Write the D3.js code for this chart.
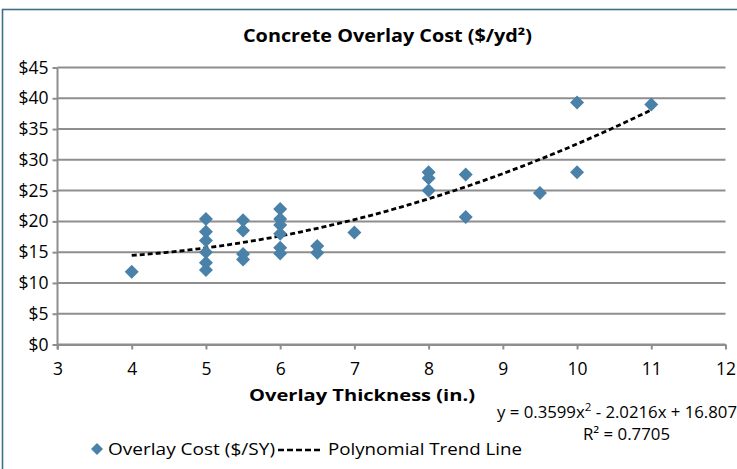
<!DOCTYPE html>
<html><head><meta charset="utf-8">
<script src="https://cdn.jsdelivr.net/npm/d3@7"></script>
<style>
html,body{margin:0;padding:0;background:#fff;}
svg{display:block;}
text{font-family:"Open Sans","Noto Sans",sans-serif;fill:#000;}
</style></head>
<body>
<script>
// ---- data ----
const thickness = [4, 5,5,5,5,5,5, 5.5,5.5,5.5,5.5, 6,6,6,6,6,6, 6.5,6.5, 7, 8,8,8, 8.5,8.5, 9.5, 10,10, 11];
const cost      = [11.8, 20.4,18.3,16.9,15.0,13.3,12.1, 20.2,18.5,14.7,13.8, 22.0,20.4,19.4,18.0,15.7,14.8, 16.0,14.9, 18.2, 28.0,27.0,25.0, 27.6,20.7, 24.6, 39.3,28.0, 39.0];
const xTicks = [3,4,5,6,7,8,9,10,11,12];
const yTicks = [0,5,10,15,20,25,30,35,40,45];
const trendCoef = [0.3599, -2.0216, 16.807]; // a x^2 + b x + c (from chart)
const trendRange = [4, 11];
const titleText = "Concrete Overlay Cost ($/yd²)";
const xTitle = "Overlay Thickness (in.)";
const legendLabels = ["Overlay Cost ($/SY)", "Polynomial Trend Line"];

const W = 737, H = 469;
const svg = d3.select("body").append("svg").attr("width", W).attr("height", H);

// outer border (top and left visible)
svg.append("rect").attr("x", 2.5).attr("y", 9.5).attr("width", 900).attr("height", 700)
  .attr("fill", "none").attr("stroke", "#3f6f88").attr("stroke-width", 1.6);

const x = d3.scaleLinear().domain([3, 12]).range([57.5, 725.5]);
const y = d3.scaleLinear().domain([0, 45]).range([344.5, 67.5]);
const gridCol = "#8e8e8e";

// gridlines
svg.append("g").selectAll("line").data(yTicks).join("line")
  .attr("x1", x(3)).attr("x2", x(12))
  .attr("y1", d => y(d)).attr("y2", d => y(d))
  .attr("stroke", gridCol).attr("stroke-width", 2);

// y axis
const yAxis = svg.append("g").attr("transform", `translate(${x(3)},0)`)
  .call(d3.axisLeft(y).tickValues(yTicks).tickFormat(d => "$" + d).tickSize(5).tickSizeOuter(0).tickPadding(4));
yAxis.select(".domain").attr("stroke", gridCol).attr("stroke-width", 2)
  .attr("d", `M0,${y(45)}V${y(0) + 5}`);
yAxis.selectAll(".tick line").attr("stroke", gridCol).attr("stroke-width", 2);
yAxis.selectAll(".tick text").attr("font-size", 17.5).attr("font-family", "Open Sans").attr("fill", "#000");

// x axis
const xAxis = svg.append("g").attr("transform", `translate(0,${y(0)})`)
  .call(d3.axisBottom(x).tickValues(xTicks).tickFormat(d3.format("d")).tickSize(5).tickSizeOuter(0).tickPadding(13));
xAxis.select(".domain").attr("stroke", gridCol).attr("stroke-width", 2);
xAxis.selectAll(".tick line").attr("stroke", gridCol).attr("stroke-width", 2);
xAxis.selectAll(".tick text").attr("font-size", 17.5).attr("font-family", "Open Sans").attr("fill", "#000");

// trend line
const trendX = d3.range(trendRange[0], trendRange[1] + 0.001, 0.05);
const poly = t => trendCoef[0] * t * t + trendCoef[1] * t + trendCoef[2];
svg.append("path").datum(trendX)
  .attr("d", d3.line().x(d => x(d)).y(d => y(poly(d))))
  .attr("fill", "none").attr("stroke", "#000").attr("stroke-width", 2.8)
  .attr("stroke-dasharray", "5,3");

// markers
const diamond = d3.symbol().type(d3.symbolSquare).size(98);
const markerCol = "#4a81a8";
svg.append("g").selectAll("path").data(thickness.map((t, i) => [t, cost[i]])).join("path")
  .attr("d", diamond)
  .attr("transform", d => `translate(${x(d[0])},${y(d[1])}) rotate(45)`)
  .attr("fill", markerCol);

// title
svg.append("text").attr("x", 243).attr("y", 42).text(titleText)
  .attr("font-size", 17).attr("font-weight", "bold")
  .attr("textLength", 289).attr("lengthAdjust", "spacingAndGlyphs");

// x title
svg.append("text").attr("x", 249).attr("y", 401).text(xTitle)
  .attr("font-size", 16.5).attr("font-weight", "bold")
  .attr("textLength", 226).attr("lengthAdjust", "spacingAndGlyphs");

// equation
const eq = svg.append("text").attr("x", 497).attr("y", 418).attr("font-size", 16)
  .attr("textLength", 240).attr("lengthAdjust", "spacingAndGlyphs");
eq.append("tspan").text("y = 0.3599x");
eq.append("tspan").text("2").attr("dy", -7).attr("font-size", 11);
eq.append("tspan").text("  - 2.0216x + 16.807").attr("dy", 7);
svg.append("text").attr("x", 583).attr("y", 440).attr("font-size", 16)
  .text("R² = 0.7705").attr("textLength", 87).attr("lengthAdjust", "spacingAndGlyphs");

// legend
svg.append("path").attr("d", d3.symbol().type(d3.symbolSquare).size(72))
  .attr("transform", "translate(97,449) rotate(45)").attr("fill", markerCol);
svg.append("text").attr("x", 108).attr("y", 455).attr("font-size", 16.5)
  .text(legendLabels[0]).attr("textLength", 167).attr("lengthAdjust", "spacingAndGlyphs");
svg.append("line").attr("x1", 278).attr("x2", 322).attr("y1", 450).attr("y2", 450)
  .attr("stroke", "#000").attr("stroke-width", 2.6).attr("stroke-dasharray", "6,3");
svg.append("text").attr("x", 328).attr("y", 455).attr("font-size", 16.5)
  .text(legendLabels[1]).attr("textLength", 194).attr("lengthAdjust", "spacingAndGlyphs");
</script>
</body></html>
